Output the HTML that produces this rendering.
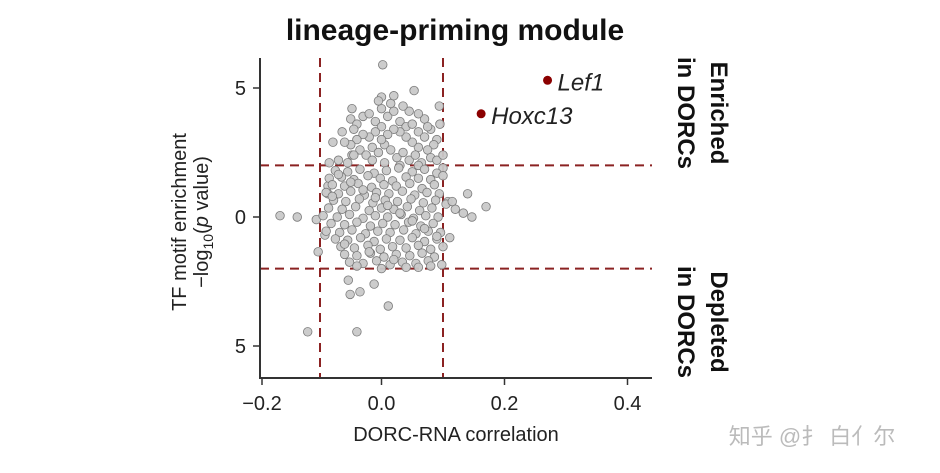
<!DOCTYPE html>
<html><head><meta charset="utf-8"><style>
html,body{margin:0;padding:0;background:#fff;}
svg{display:block;font-family:"Liberation Sans","Noto Sans CJK SC",sans-serif;}
</style></head><body>
<svg id="chart" width="940" height="473" viewBox="0 0 940 473">
<text x="455" y="40" text-anchor="middle" font-size="30" font-weight="bold" fill="#111">lineage-priming module</text>
<g id="grid"></g>
<g id="points"></g>
<g id="axes"></g>
<g transform="translate(186,222) rotate(-90)">
<text x="0" y="0" text-anchor="middle" font-size="20" fill="#222">TF motif enrichment</text>
<text x="0" y="22" text-anchor="middle" font-size="20" fill="#222">−log<tspan font-size="14" dy="5">10</tspan><tspan dy="-5">(</tspan><tspan font-style="italic">p</tspan> value)</text>
</g>
<text x="456" y="441" text-anchor="middle" font-size="20" fill="#222">DORC-RNA correlation</text>
<g transform="translate(711,113) rotate(90)">
<text x="0" y="0" text-anchor="middle" font-size="24" font-weight="bold" fill="#111">Enriched</text>
<text x="0" y="33" text-anchor="middle" font-size="24" font-weight="bold" fill="#111">in DORCs</text>
</g>
<g transform="translate(711,322) rotate(90)">
<text x="0" y="0" text-anchor="middle" font-size="24" font-weight="bold" fill="#111">Depleted</text>
<text x="0" y="33" text-anchor="middle" font-size="24" font-weight="bold" fill="#111">in DORCs</text>
</g>
<text x="812" y="444" text-anchor="middle" font-size="22" fill="#bbb">知乎 @扌 白亻尔</text>
</svg>
<script>
const xTicks=[-0.2,0.0,0.2,0.4];
const xTickLabels=["−0.2","0.0","0.2","0.4"];
const yTicks=[5,0,-5];
const yTickLabels=["5","0","5"];
const xThresholds=[-0.1,0.1];
const yThresholds=[2,-2];
const highlightNames=["Lef1","Hoxc13"];
const highlightX=[0.27,0.162];
const highlightY=[5.3,4.0];
const pointsX=[0.002,0.053,-0.048,0.094,0.0,-0.079,-0.064,-0.048,-0.085,-0.137,-0.087,-0.087,0.17,0.14,0.147,-0.106,-0.092,-0.103,-0.054,-0.051,-0.035,-0.012,0.011,-0.12,-0.04,0.111,0.133,-0.165,
-0.05,-0.04,-0.03,-0.02,-0.01,0.0,0.01,0.02,0.03,0.04,0.05,0.06,0.07,0.08,0.09,0.085,0.075,0.06,0.05,0.04,0.03,0.02,0.01,0.0,-0.01,-0.02,-0.03,-0.04,-0.05,-0.06,-0.035,-0.025,-0.015,-0.005,0.005,0.015,0.025,0.035,0.045,0.055,0.065,0.08,0.09,0.1,0.095,0.07,0.06,0.045,0.035,0.015,-0.005,0.02,0.0,-0.045,0.075,0.1,-0.07,-0.055,-0.045,-0.015,0.005,0.03,0.06,
-0.075,-0.055,-0.035,-0.012,0.008,0.028,0.05,0.07,0.09,
-0.085,-0.065,-0.045,-0.022,-0.002,0.018,0.04,0.06,0.08,0.1,
-0.08,-0.06,-0.038,-0.016,0.004,0.024,0.046,0.066,0.086,
-0.09,-0.07,-0.05,-0.028,-0.008,0.012,0.034,0.054,0.074,0.094,
-0.078,-0.058,-0.036,-0.014,0.006,0.026,0.048,0.068,0.088,0.108,
-0.086,-0.064,-0.042,-0.02,0.0,0.02,0.042,0.062,0.082,
-0.095,-0.072,-0.052,-0.03,-0.01,0.01,0.032,0.052,0.072,0.092,0.12,
-0.082,-0.06,-0.04,-0.018,0.002,0.022,0.044,0.064,0.084,
-0.09,-0.068,-0.048,-0.026,-0.006,0.014,0.036,0.056,0.076,0.096,
-0.075,-0.055,-0.034,-0.012,0.008,0.03,0.05,0.07,0.09,
-0.066,-0.044,-0.022,-0.002,0.018,0.04,0.06,0.08,0.1,
-0.06,-0.04,-0.018,0.004,0.024,0.046,0.066,0.086,
-0.052,-0.03,-0.008,0.014,0.034,0.056,0.076,0.098,
-0.07,-0.05,-0.03,-0.01,0.01,0.03,0.05,0.07,0.09,-0.06,-0.02,0.02,0.06,-0.04,0.0,0.04,0.08,-0.08,0.105,0.115];
const pointsY=[5.9,4.9,4.2,4.3,4.65,2.9,3.3,2.4,2.1,0.0,1.2,0.9,0.4,0.9,0.0,-0.1,-0.7,-1.35,-2.45,-3.0,-2.9,-2.6,-3.45,-4.45,-4.45,-0.8,0.15,0.05,
3.8,3.6,3.9,4.0,3.7,4.2,3.9,4.1,3.7,3.5,3.6,3.3,3.1,3.4,3.0,2.8,2.6,2.7,2.9,3.1,3.3,3.4,3.2,3.5,3.3,3.1,3.2,3.0,2.8,2.9,2.6,2.4,2.7,2.5,2.8,2.6,2.3,2.5,2.2,2.4,2.1,2.3,2.2,2.4,3.6,3.8,4.0,4.1,4.3,4.4,4.5,4.7,3.0,3.4,3.5,1.9,2.2,2.1,2.4,2.2,2.1,2.0,2.0,
1.8,1.75,1.85,1.7,1.8,1.9,1.75,1.85,1.7,
1.5,1.55,1.45,1.6,1.5,1.4,1.55,1.5,1.45,1.6,
1.25,1.2,1.3,1.15,1.25,1.2,1.3,1.1,1.25,
0.95,0.9,1.0,0.85,0.95,0.9,1.0,0.85,0.95,0.9,
0.65,0.6,0.7,0.55,0.65,0.6,0.7,0.55,0.65,0.6,
0.35,0.3,0.4,0.25,0.35,0.3,0.4,0.25,0.35,
0.05,0.0,0.1,-0.05,0.05,0.0,0.1,-0.05,0.05,0.0,0.3,
-0.25,-0.3,-0.2,-0.35,-0.25,-0.3,-0.2,-0.35,-0.25,
-0.55,-0.6,-0.5,-0.65,-0.55,-0.6,-0.5,-0.65,-0.55,-0.6,
-0.85,-0.9,-0.8,-0.95,-0.85,-0.9,-0.8,-0.95,-0.85,
-1.15,-1.2,-1.1,-1.25,-1.15,-1.2,-1.1,-1.25,-1.15,
-1.45,-1.5,-1.4,-1.55,-1.45,-1.5,-1.4,-1.55,
-1.75,-1.8,-1.7,-1.85,-1.75,-1.8,-1.7,-1.85,
1.65,1.35,1.05,0.75,0.45,0.15,-0.15,-0.45,-0.75,-1.05,-1.35,-1.65,-1.95,-1.9,-2.0,-1.95,-1.9,0.8,0.5,0.6];

const NS="http://www.w3.org/2000/svg";
const X0=260,X1=652,Y0=58,Y1=378;
function xScale(v){return 381.5+v*615;}
function yScale(v){return 217-v*25.8;}
function mk(tag,attrs,parent){const e=document.createElementNS(NS,tag);for(const k in attrs)e.setAttribute(k,attrs[k]);parent.appendChild(e);return e;}
const grid=document.getElementById('grid'),pts=document.getElementById('points'),axes=document.getElementById('axes');
xThresholds.forEach(v=>{
  const l=mk('line',{x1:xScale(v),x2:xScale(v),y1:Y0,y2:Y1,stroke:'#8b2222','stroke-width':2,'stroke-dasharray':'9,6'},grid);
  
  
});
yThresholds.forEach(v=>{
  const l=mk('line',{x1:X0,x2:X1,y1:yScale(v),y2:yScale(v),stroke:'#8b2222','stroke-width':2,'stroke-dasharray':'9,6'},grid);
  
  
});
for(let i=0;i<pointsX.length;i++){
  const c=mk('circle',{cx:xScale(pointsX[i]),cy:yScale(pointsY[i]),r:4.3,fill:'#c9c9c9',stroke:'#7a7a7a','stroke-width':0.8,'fill-opacity':0.95},pts);
  
  
}
highlightNames.forEach((n,i)=>{
  const c=mk('circle',{cx:xScale(highlightX[i]),cy:yScale(highlightY[i]),r:4.5,fill:'#8b0000'},pts);
  
  
  const t=mk('text',{x:xScale(highlightX[i])+10,y:yScale(highlightY[i])+10,'font-size':24,'font-style':'italic',fill:'#222'},pts);
  t.textContent=n;
  
  
});
const ya=mk('line',{x1:X0,x2:X0,y1:Y0,y2:Y1+1,stroke:'#333','stroke-width':2},axes);


const xa=mk('line',{x1:X0-1,x2:X1,y1:Y1,y2:Y1,stroke:'#333','stroke-width':2},axes);


xTicks.forEach((v,i)=>{
  const px=Math.max(xScale(v),X0+2);
  mk('line',{x1:px,x2:px,y1:Y1,y2:Y1+7,stroke:'#333','stroke-width':1.5},axes);
  const t=mk('text',{x:px,y:Y1+32,'text-anchor':'middle','font-size':20,fill:'#222'},axes);
  t.textContent=xTickLabels[i];
  
  
});
yTicks.forEach((v,i)=>{
  const py=yScale(v);
  mk('line',{x1:X0-7,x2:X0,y1:py,y2:py,stroke:'#333','stroke-width':1.5},axes);
  const t=mk('text',{x:X0-14,y:py+7,'text-anchor':'end','font-size':20,fill:'#222'},axes);
  t.textContent=yTickLabels[i];
  
  
});
</script>
</body></html>
